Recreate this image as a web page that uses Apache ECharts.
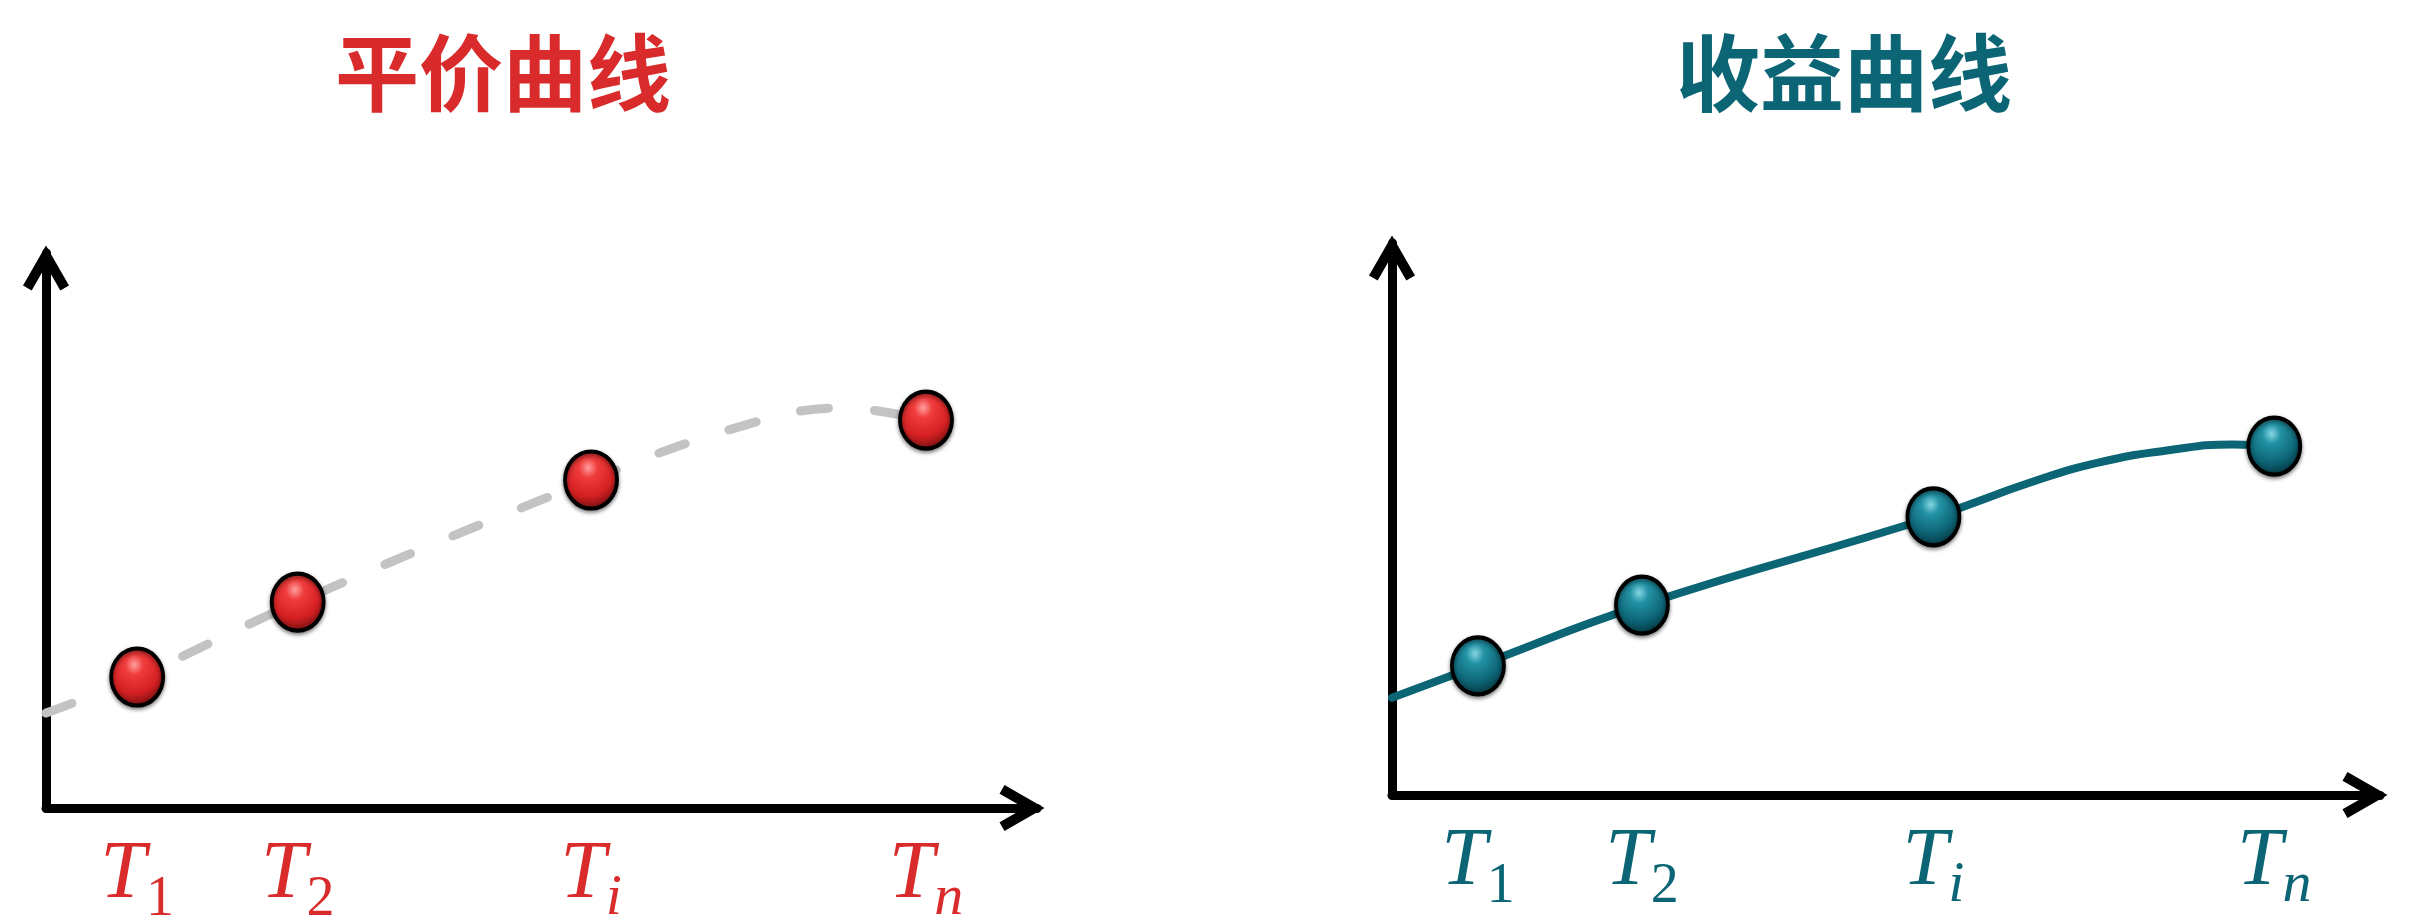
<!DOCTYPE html>
<html>
<head>
<meta charset="utf-8">
<script src="https://cdn.jsdelivr.net/npm/echarts@6/dist/echarts.min.js"></script>
<style>html,body{margin:0;padding:0;background:#fff}#c{width:2434px;height:922px}</style>
</head>
<body>
<div id="c"></div>
<script>
// ---- data ----
const titles = ['平价曲线', '收益曲线'];
const tickSubs = ['1', '2', 'i', 'n'];
const leftX = [9.2, 25.4, 55.0, 88.8];
const leftY = [23.6, 37.1, 59.1, 69.9];
const leftCurveX = [0, 9.2, 25.4, 55.0, 69.6, 80.3, 88.8];
const leftCurveY = [17.1, 23.6, 37.1, 59.1, 68.5, 72.1, 69.9];
const rightX = [8.7, 25.3, 54.8, 89.3];
const rightY = [23.4, 34.4, 50.4, 63.2];
const rightCurveX = [0, 8.7, 25.3, 54.8, 64.9, 71.7, 78.4, 85.1, 89.3];
const rightCurveY = [17.6, 23.4, 34.4, 50.4, 56.8, 60.3, 62.4, 63.5, 63.2];

const RED = '#D92B2B';
const TEAL = '#0B6575';

const zip = (a, b) => a.map((v, i) => [v, b[i]]);
const chevron = 'path://M24,0 L47,40 L38.3,45 L24,20 L9.7,45 L1,40 Z';

function axisLine() {
  return {
    show: true,
    lineStyle: { color: '#000', width: 9, cap: 'round' },
    symbol: ['none', chevron],
    symbolSize: [46, 45],
    symbolOffset: [0, -15]
  };
}
function xAxis(gridIndex, xs, color) {
  return {
    type: 'value', gridIndex, min: 0, max: 100,
    axisLine: axisLine(),
    axisTick: { show: false },
    splitLine: { show: false },
    axisLabel: {
      customValues: xs,
      margin: 26,
      formatter: function (v) {
        let i = xs.indexOf(v);
        if (i < 0) { let best = 0; xs.forEach((x, k) => { if (Math.abs(x - v) < Math.abs(xs[best] - v)) best = k; }); i = best; }
        const s = tickSubs[i];
        const st = /[0-9]/.test(s) ? 'd' : 'l';
        return '{t|T}{' + st + '|' + s + '}';
      },
      rich: {
        t: { fontFamily: 'Liberation Serif', fontStyle: 'italic', fontSize: 82, color: color, verticalAlign: 'top', lineHeight: 94 },
        d: { fontFamily: 'Liberation Serif', fontSize: 56, color: color, verticalAlign: 'bottom', lineHeight: 56 },
        l: { fontFamily: 'Liberation Serif', fontStyle: 'italic', fontSize: 58, color: color, verticalAlign: 'bottom', lineHeight: 56 }
      }
    }
  };
}
function yAxis(gridIndex) {
  return {
    type: 'value', gridIndex, min: 0, max: 100,
    axisLine: axisLine(),
    axisTick: { show: false },
    splitLine: { show: false },
    axisLabel: { show: false }
  };
}
function ball(c0, c1, c2, c3) {
  return {
    type: 'radial', x: 0.45, y: 0.3, r: 0.75,
    colorStops: [
      { offset: 0, color: c0 }, { offset: 0.22, color: c1 },
      { offset: 0.62, color: c2 }, { offset: 1, color: c3 }
    ]
  };
}

const option = {
  backgroundColor: '#fff',
  animation: false,
  title: [
    { text: titles[0], left: 498, top: 26, textAlign: 'center',
      textStyle: { fontFamily: 'Noto Sans CJK SC', fontWeight: 'bold', fontSize: 84, color: RED } },
    { text: titles[1], left: 1839, top: 26, textAlign: 'center',
      textStyle: { fontFamily: 'Noto Sans CJK SC', fontWeight: 'bold', fontSize: 84, color: TEAL } }
  ],
  grid: [
    { left: 46, top: 253, width: 991, height: 555, outerBoundsMode: 'none', containLabel: false },
    { left: 1392, top: 243, width: 988, height: 552, outerBoundsMode: 'none', containLabel: false }
  ],
  xAxis: [xAxis(0, leftX, RED), xAxis(1, rightX, TEAL)],
  yAxis: [yAxis(0), yAxis(1)],
  series: [
    { type: 'line', xAxisIndex: 0, yAxisIndex: 0, data: zip(leftCurveX, leftCurveY),
      smooth: 0.4, showSymbol: false, z: 1,
      lineStyle: { color: '#C3C3C3', width: 9, type: [28, 46], cap: 'round' } },
    { type: 'scatter', xAxisIndex: 0, yAxisIndex: 0, data: zip(leftX, leftY), z: 3,
      symbol: 'circle', symbolSize: [52, 57],
      itemStyle: { color: ball('#FF9E9E', '#F03C3C', '#D42022', '#5A0C0C'), borderColor: '#000', borderWidth: 4,
        shadowBlur: 4, shadowColor: 'rgba(0,0,0,0.45)', shadowOffsetY: 2, opacity: 1 } },
    { type: 'line', xAxisIndex: 1, yAxisIndex: 1, data: zip(rightCurveX, rightCurveY),
      smooth: 0.5, showSymbol: false, z: 1,
      lineStyle: { color: TEAL, width: 8, cap: 'round' } },
    { type: 'scatter', xAxisIndex: 1, yAxisIndex: 1, data: zip(rightX, rightY), z: 3,
      symbol: 'circle', symbolSize: [52, 57],
      itemStyle: { color: ball('#86D6E3', '#2292A4', '#0D6576', '#042830'), borderColor: '#000', borderWidth: 4,
        shadowBlur: 4, shadowColor: 'rgba(0,0,0,0.45)', shadowOffsetY: 2, opacity: 1 } }
  ]
};
const chart = echarts.init(document.getElementById('c'), null, { renderer: 'canvas' });
chart.setOption(option);
</script>
</body>
</html>
